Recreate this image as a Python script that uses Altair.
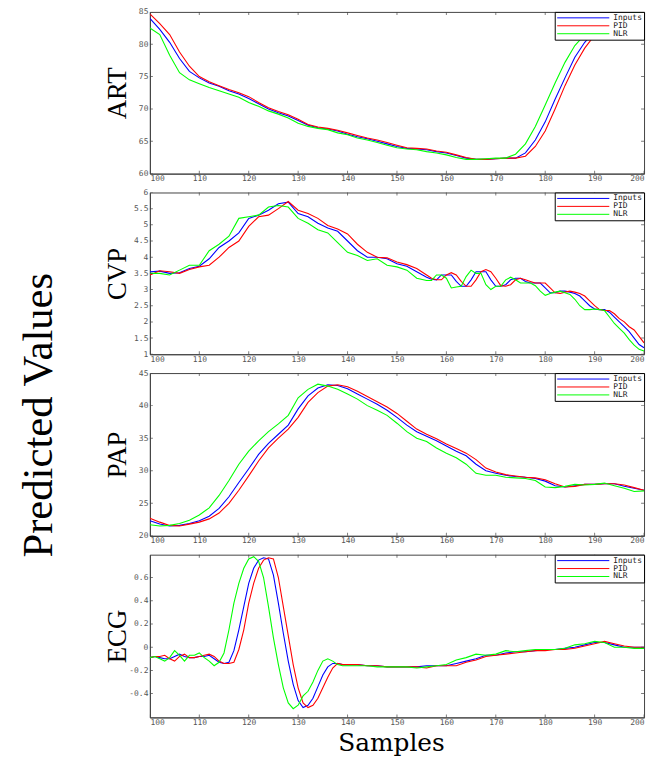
import altair as alt
import pandas as pd

SERIES = ["Inputs", "PID", "NLR"]
COLORS = ["#0000ff", "#ff0000", "#00ff00"]
X_TICKS = [100, 110, 120, 130, 140, 150, 160, 170, 180, 190, 200]

# ---------------- ART ----------------
ART_X = list(range(100, 201, 2))
ART_INPUTS = [84.0, 82.3, 80.3, 77.8, 75.8, 74.8, 74.0, 73.5, 72.8, 72.3, 71.6, 70.8, 70.0, 69.4, 68.9,
              68.2, 67.5, 67.1, 66.9, 66.6, 66.1, 65.7, 65.4, 65.0, 64.6, 64.2, 63.9, 63.8, 63.7, 63.4,
              63.2, 62.8, 62.4, 62.2, 62.2, 62.3, 62.4, 62.4, 63.2, 65.2, 68.0, 71.5, 74.8, 78.0, 80.3,
              82.0, 83.0, 83.8, 84.3, 84.7, 85.0]
ART_PID = [84.7, 83.2, 81.5, 78.8, 76.6, 75.0, 74.2, 73.6, 73.0, 72.5, 71.9, 71.0, 70.2, 69.6, 69.1,
           68.4, 67.6, 67.2, 67.0, 66.7, 66.3, 65.9, 65.5, 65.2, 64.8, 64.4, 64.0, 63.9, 63.8, 63.5,
           63.3, 62.9, 62.5, 62.2, 62.2, 62.3, 62.4, 62.4, 62.7, 64.2, 66.6, 70.0, 73.6, 76.8, 79.4,
           81.4, 82.6, 83.5, 84.1, 84.6, 85.0]
ART_NLR = [82.5, 81.5, 78.3, 75.6, 74.5, 73.9, 73.3, 72.8, 72.3, 71.8, 71.0, 70.4, 69.7, 69.2, 68.6,
           67.8, 67.3, 67.0, 66.8, 66.3, 66.0, 65.5, 65.2, 64.8, 64.4, 64.0, 63.8, 63.7, 63.4, 63.2,
           62.9, 62.5, 62.2, 62.2, 62.3, 62.4, 62.4, 63.0, 64.6, 67.3, 70.6, 74.0, 77.2, 79.8, 81.5,
           82.7, 83.5, 84.1, 84.6, 84.9, 85.0]
ART_TICKS = [60, 65, 70, 75, 80, 85]

# ---------------- CVP ----------------
CVP_X = list(range(100, 157, 2)) + list(range(157, 201))
CVP_INPUTS = [3.55, 3.57, 3.5, 3.52, 3.65, 3.72, 3.95, 4.3, 4.5, 4.75, 5.2, 5.3, 5.45, 5.65, 5.7,
              5.35, 5.25, 5.05, 4.9, 4.8, 4.5, 4.2, 4.0, 4.0, 3.95, 3.8, 3.72, 3.55, 3.38,
              3.32, 3.3, 3.45, 3.45, 3.45, 3.25, 3.1, 3.1, 3.3, 3.55, 3.55, 3.55, 3.3, 3.1, 3.1,
              3.15, 3.3, 3.35, 3.35, 3.25, 3.2, 3.2, 3.2, 3.05, 2.9, 2.9, 2.95, 2.95, 2.92, 2.88,
              2.8, 2.65, 2.5, 2.4, 2.38, 2.38, 2.3, 2.15, 2.0, 1.85, 1.7, 1.5, 1.3, 1.2]
CVP_PID = [3.45, 3.58, 3.55, 3.5, 3.62, 3.7, 3.75, 4.0, 4.3, 4.5, 4.95, 5.25, 5.3, 5.5, 5.72,
           5.45, 5.35, 5.2, 4.98, 4.87, 4.72, 4.4, 4.15, 4.0, 3.98, 3.85, 3.77, 3.65, 3.45,
           3.35, 3.3, 3.3, 3.45, 3.52, 3.45, 3.25, 3.1, 3.1, 3.3, 3.55, 3.62, 3.55, 3.35, 3.12,
           3.1, 3.15, 3.3, 3.35, 3.3, 3.25, 3.2, 3.2, 3.2, 3.05, 2.9, 2.88, 2.92, 2.95, 2.92,
           2.88, 2.8, 2.65, 2.5, 2.38, 2.35, 2.35, 2.25, 2.1, 2.0, 1.85, 1.75, 1.55, 1.35]
CVP_NLR = [3.5, 3.5, 3.45, 3.6, 3.75, 3.75, 4.2, 4.4, 4.65, 5.2, 5.25, 5.3, 5.55, 5.6, 5.55,
           5.2, 5.05, 4.85, 4.75, 4.45, 4.15, 4.05, 3.9, 3.95, 3.75, 3.7, 3.6, 3.35, 3.28,
           3.28, 3.45, 3.45, 3.35, 3.05, 3.08, 3.1, 3.4, 3.6, 3.5, 3.5, 3.15, 3.0, 3.1, 3.1,
           3.3, 3.38, 3.3, 3.2, 3.2, 3.2, 3.12, 2.95, 2.82, 2.88, 2.92, 2.95, 2.9, 2.85, 2.7,
           2.5, 2.38, 2.38, 2.4, 2.38, 2.35, 2.15, 1.95, 1.8, 1.65, 1.45, 1.28, 1.15, 1.1]
CVP_TICKS = [1, 1.5, 2, 2.5, 3, 3.5, 4, 4.5, 5, 5.5, 6]

# ---------------- PAP ----------------
PAP_X = list(range(100, 201, 2))
PAP_INPUTS = [22.3, 21.8, 21.5, 21.6, 21.9, 22.3, 23.0, 24.2, 26.0, 28.2, 30.3, 32.5, 34.2, 35.6, 37.0,
              39.5, 41.5, 42.7, 43.2, 43.1, 42.6, 41.8, 41.0, 40.2, 39.3, 38.2, 37.0, 36.0, 35.3, 34.6,
              33.8, 33.0, 32.3, 31.0, 30.0, 29.6, 29.3, 29.1, 29.0, 28.8, 28.4, 27.7, 27.5, 27.7, 27.9,
              27.9, 28.0, 28.0, 27.6, 27.3, 27.0]
PAP_PID = [22.7, 22.1, 21.6, 21.5, 21.8, 22.1, 22.6, 23.5, 25.0, 27.0, 29.2, 31.5, 33.5, 35.0, 36.4,
           38.2, 40.5, 42.0, 43.0, 43.2, 42.9, 42.2, 41.4, 40.6, 39.8, 38.8, 37.6, 36.4, 35.6, 34.9,
           34.1, 33.4, 32.7, 31.7, 30.4, 29.8, 29.4, 29.2, 29.0, 28.9, 28.6, 28.0, 27.5, 27.6, 27.9,
           27.9, 28.0, 28.0, 27.8, 27.4, 27.0]
PAP_NLR = [21.7, 21.5, 21.6, 21.9, 22.4, 23.2, 24.3, 26.2, 28.5, 31.0, 33.0, 34.6, 36.0, 37.2, 38.5,
           41.2, 42.5, 43.3, 43.0, 42.5, 41.8, 41.0, 40.0, 39.3, 38.5, 37.3, 36.0, 35.0, 34.5, 33.5,
           32.7, 32.0, 31.0, 29.6, 29.3, 29.3, 29.0, 28.9, 28.8, 28.5, 27.5, 27.4, 27.6, 27.9, 27.8,
           27.9, 28.1, 27.7, 27.3, 26.8, 26.9]
PAP_TICKS = [20, 25, 30, 35, 40, 45]

# ---------------- ECG ----------------
ECG_X = list(range(100, 141)) + list(range(142, 201, 2))
ECG_INPUTS = [-0.09, -0.08, -0.09, -0.10, -0.10, -0.08, -0.06, -0.08, -0.09, -0.09,
              -0.08, -0.08, -0.07, -0.10, -0.13, -0.14, -0.13, -0.03, 0.15, 0.35,
              0.55, 0.68, 0.75, 0.77, 0.76, 0.62, 0.38, 0.12, -0.12, -0.32,
              -0.46, -0.52, -0.50, -0.44, -0.34, -0.24, -0.17, -0.14, -0.14, -0.15, -0.15,
              -0.15, -0.16, -0.16, -0.17, -0.17, -0.17, -0.17, -0.16, -0.16, -0.16,
              -0.14, -0.12, -0.10, -0.07, -0.07, -0.05, -0.04, -0.04, -0.03, -0.02,
              -0.02, -0.01, 0.00, 0.02, 0.04, 0.04, 0.02, 0.00, 0.00, 0.00]
ECG_PID = [-0.09, -0.08, -0.08, -0.07, -0.10, -0.12, -0.08, -0.06, -0.09, -0.09,
           -0.08, -0.07, -0.06, -0.08, -0.12, -0.14, -0.14, -0.13, -0.02, 0.15,
           0.38, 0.55, 0.68, 0.75, 0.77, 0.76, 0.60, 0.35, 0.10, -0.15,
           -0.35, -0.48, -0.52, -0.50, -0.44, -0.35, -0.26, -0.18, -0.14, -0.15, -0.15,
           -0.15, -0.16, -0.16, -0.17, -0.17, -0.17, -0.17, -0.18, -0.16, -0.16,
           -0.16, -0.13, -0.11, -0.08, -0.07, -0.06, -0.05, -0.04, -0.03, -0.03,
           -0.02, -0.02, -0.01, 0.01, 0.03, 0.05, 0.03, 0.01, 0.00, 0.00]
ECG_NLR = [-0.09, -0.08, -0.10, -0.12, -0.09, -0.03, -0.07, -0.12, -0.07, -0.07,
           -0.05, -0.09, -0.12, -0.16, -0.13, -0.05, 0.15, 0.38, 0.55, 0.68,
           0.76, 0.78, 0.74, 0.60, 0.35, 0.08, -0.15, -0.35, -0.48, -0.53,
           -0.50, -0.42, -0.38, -0.30, -0.20, -0.12, -0.10, -0.12, -0.15, -0.16, -0.16,
           -0.16, -0.16, -0.17, -0.17, -0.17, -0.17, -0.18, -0.17, -0.16, -0.15,
           -0.11, -0.09, -0.06, -0.07, -0.06, -0.03, -0.04, -0.03, -0.02, -0.02,
           -0.02, -0.01, 0.02, 0.03, 0.05, 0.04, 0.00, 0.00, -0.01, -0.01]
ECG_TICKS = [-0.4, -0.2, 0, 0.2, 0.4, 0.6]

PLOT_W = 498
AXIS_GRAY = "#444444"


def make_df(x, inputs, pid, nlr):
    rows = []
    for name, vals in zip(SERIES, (inputs, pid, nlr)):
        for xi, v in zip(x, vals):
            rows.append({"sample": xi, "value": v, "series": name})
    return pd.DataFrame(rows)


def panel(label, x, inputs, pid, nlr, ydomain, yticks, h, xtitle=False):
    df = make_df(x, inputs, pid, nlr)
    if xtitle:
        xaxis = alt.Axis(values=X_TICKS, title="Samples", titleFont="DejaVu Serif",
                         titleFontSize=25, titleFontWeight="normal", titleColor="black",
                         titleY=33, titleBaseline="alphabetic", titleX=243, labelOverlap=False,
                         labelPadding=1)
    else:
        xaxis = alt.Axis(values=X_TICKS, title=None, labelOverlap=False, labelPadding=1)
    yaxis = alt.Axis(values=yticks, labelExpr="toString(datum.value)", title=label,
                     titleFont="Liberation Serif", titleFontSize=27, titleFontWeight="normal",
                     titleColor="black", titleX=-19, titleY=h / 2, titleAngle=-90,
                     titleAlign="center", titleBaseline="bottom", labelOverlap=False)
    xscale = alt.Scale(domain=[100, 200], nice=False, zero=False)
    yscale = alt.Scale(domain=ydomain, nice=False, zero=False)
    xenc = alt.X("sample:Q", scale=xscale, axis=xaxis)
    yenc = alt.Y("value:Q", scale=yscale, axis=yaxis)

    lines = alt.Chart(df).mark_line(strokeWidth=1.1, clip=True).encode(
        x=xenc,
        y=yenc,
        color=alt.Color("series:N", scale=alt.Scale(domain=SERIES, range=COLORS),
                        legend=alt.Legend(title=None, orient="top-right", offset=0,
                                          strokeColor="black", fillColor="white", padding=2,
                                          symbolType="M-1,0H14", symbolSize=49,
                                          symbolStrokeWidth=1, labelFont="DejaVu Sans Mono",
                                          labelFontSize=8, labelColor="#222", rowPadding=0,
                                          labelOffset=49)),
    )

    xt_df = pd.DataFrame({"sample": X_TICKS})
    yt_df = pd.DataFrame({"value": yticks})
    tick_style = dict(size=6, thickness=1, color=AXIS_GRAY, clip=True)
    ticks_bottom = alt.Chart(xt_df).mark_tick(orient="vertical", **tick_style).encode(
        x=xenc, y=alt.YDatum(ydomain[0], scale=yscale, axis=yaxis))
    ticks_top = alt.Chart(xt_df).mark_tick(orient="vertical", **tick_style).encode(
        x=xenc, y=alt.YDatum(ydomain[1], scale=yscale, axis=yaxis))
    ticks_left = alt.Chart(yt_df).mark_tick(orient="horizontal", **tick_style).encode(
        y=yenc, x=alt.XDatum(100, scale=xscale, axis=xaxis))
    ticks_right = alt.Chart(yt_df).mark_tick(orient="horizontal", **tick_style).encode(
        y=yenc, x=alt.XDatum(200, scale=xscale, axis=xaxis))

    return alt.layer(lines, ticks_bottom, ticks_top, ticks_left, ticks_right).properties(
        width=PLOT_W, height=h)


p1 = panel("ART", ART_X, ART_INPUTS, ART_PID, ART_NLR, [60, 85], ART_TICKS, 163)
p2 = panel("CVP", CVP_X, CVP_INPUTS, CVP_PID, CVP_NLR, [1, 6], CVP_TICKS, 163)
p3 = panel("PAP", PAP_X, PAP_INPUTS, PAP_PID, PAP_NLR, [20, 45], PAP_TICKS, 164)
p4 = panel("ECG", ECG_X, ECG_INPUTS, ECG_PID, ECG_NLR, [-0.605, 0.797], ECG_TICKS, 164, xtitle=True)

chart = alt.vconcat(p1, p2, p3, p4, spacing=19, bounds="flush").resolve_scale(
    y="independent"
).resolve_legend(color="independent").properties(
    title=alt.TitleParams("Predicted Values", orient="left", anchor="middle",
                          font="Liberation Serif", fontSize=43, fontWeight="normal",
                          color="black", offset=42, dx=-34),
    padding={"left": 10, "top": -4, "right": 4, "bottom": 0},
).configure_view(stroke=AXIS_GRAY, strokeWidth=1).configure_axis(
    grid=False, labelFont="DejaVu Sans Mono", labelFontSize=8, labelColor="#555",
    domainColor=AXIS_GRAY, ticks=False, labelPadding=2,
)

chart.save("out.html", embed_options={"renderer": "svg", "actions": False})
